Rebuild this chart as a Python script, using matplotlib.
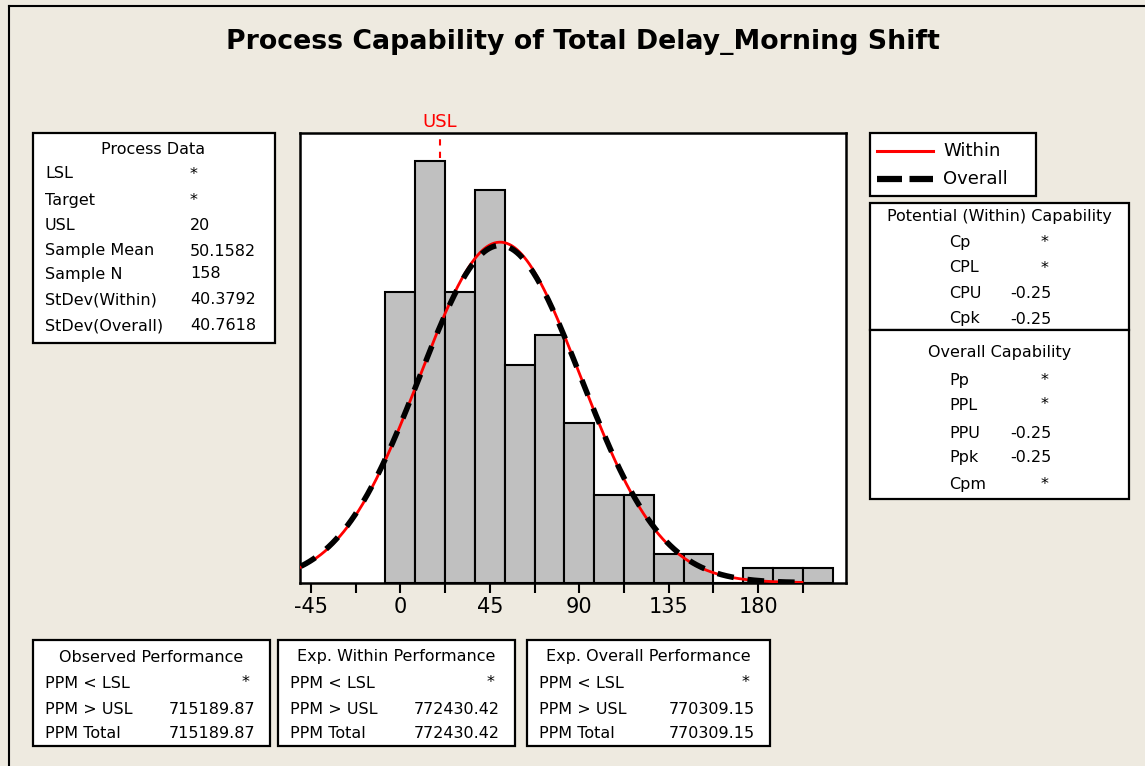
import numpy as np
import matplotlib.pyplot as plt
from matplotlib.patches import Rectangle
from matplotlib.lines import Line2D

plt.rcParams["axes.unicode_minus"] = False

# histogram data (bin centres, counts)
bin_centers = [0, 15, 30, 45, 60, 75, 90, 105, 120, 135, 150, 165, 180, 195, 210]
counts = [20, 29, 20, 27, 15, 17, 11, 6, 6, 2, 2, 0, 1, 1, 1]
bin_width = 15

usl = 20
mean = 50.1582
n = 158
sd_within = 40.3792
sd_overall = 40.7618

xticks = [-45, 0, 45, 90, 135, 180]

process_labels = ["LSL", "Target", "USL", "Sample Mean", "Sample N", "StDev(Within)", "StDev(Overall)"]
process_values = ["*", "*", "20", "50.1582", "158", "40.3792", "40.7618"]

within_labels = ["Cp", "CPL", "CPU", "Cpk"]
within_values = ["*", "*", "-0.25", "-0.25"]
overall_labels = ["Pp", "PPL", "PPU", "Ppk", "Cpm"]
overall_values = ["*", "*", "-0.25", "-0.25", "*"]

perf_titles = ["Observed Performance", "Exp. Within Performance", "Exp. Overall Performance"]
perf_labels = ["PPM < LSL", "PPM > USL", "PPM Total"]
perf_values = [["*", "715189.87", "715189.87"],
               ["*", "772430.42", "772430.42"],
               ["*", "770309.15", "770309.15"]]

W, H = 1145, 766
bg = "#EEEAE0"
fig = plt.figure(figsize=(W / 100, H / 100), dpi=100, facecolor=bg)


def fx(x):
    return x / W


def fy(y):
    return 1 - y / H


def box(x0, y0, x1, y1):
    fig.patches.append(Rectangle((fx(x0), fy(y1)), fx(x1) - fx(x0), fy(y0) - fy(y1),
                                 transform=fig.transFigure, facecolor="white",
                                 edgecolor="black", linewidth=1.6, zorder=1))


def txt(x, y, s, ha="left", color="black", size=11.5):
    fig.text(fx(x), fy(y), s, ha=ha, va="center", color=color, fontsize=size, zorder=3)


# outer frame
fig.add_artist(Line2D([fx(9), fx(9)], [0, fy(6)], color="black", linewidth=1.5))
fig.add_artist(Line2D([fx(9), 1], [fy(6), fy(6)], color="black", linewidth=1.5))

fig.text(fx(583), fy(42), "Process Capability of Total Delay_Morning Shift",
         ha="center", va="center", fontsize=19.3, fontweight="bold")

# histogram
ax = fig.add_axes([fx(300), fy(582.7), fx(845.7) - fx(300), fy(133.3) - fy(582.7)])
ax.bar(bin_centers, counts, width=bin_width, color="#C0C0C0", edgecolor="black",
       linewidth=1.5, zorder=2)
ax.axvline(usl, color="red", linestyle=(0, (3, 3)), linewidth=1.5, zorder=1)

xs = np.linspace(-50, 202, 400)
scale = n * bin_width
y_within = scale / (sd_within * np.sqrt(2 * np.pi)) * np.exp(-0.5 * ((xs - mean) / sd_within) ** 2)
y_overall = scale / (sd_overall * np.sqrt(2 * np.pi)) * np.exp(-0.5 * ((xs - mean) / sd_overall) ** 2)
ax.plot(xs, y_within, color="red", linewidth=2, zorder=3)
ax.plot(xs, y_overall, color="black", linewidth=4, linestyle=(0, (3, 2.5)), zorder=4)

ax.set_xlim(-50.5, 224)
ax.set_ylim(0, 30.9)
ax.set_yticks([])
ax.set_xticks(xticks)
ax.set_xticks([-22.5, 22.5, 67.5, 112.5, 157.5, 202.5], minor=True)
ax.tick_params(axis="x", which="both", direction="out", length=7, width=1.5, labelsize=15)
for sp in ax.spines.values():
    sp.set_linewidth(1.8)

ax.text(usl, 1.005, "USL", transform=ax.get_xaxis_transform(), ha="center",
        va="bottom", color="red", fontsize=13)

# Process Data box
box(33, 133, 275, 343)
txt(153, 149, "Process Data", ha="center")
row_y = [174, 200, 225, 251, 274, 300, 326]
for lab, val, y in zip(process_labels, process_values, row_y):
    txt(45, y, lab)
    txt(190, y, val)

# legend box
box(870, 133, 1036, 196)
fig.add_artist(Line2D([fx(877), fx(933)], [fy(151), fy(151)], color="red", linewidth=2.2))
fig.add_artist(Line2D([fx(877), fx(933)], [fy(179), fy(179)], color="black", linewidth=4.5,
                      linestyle=(0, (4, 1.2))))
txt(943, 151, "Within", size=13)
txt(943, 179, "Overall", size=13)

# capability boxes
box(870, 203, 1129, 330)
box(870, 330, 1129, 499)
txt(999, 217, "Potential (Within) Capability", ha="center")
for lab, val, y in zip(within_labels, within_values, [242, 268, 293, 319]):
    txt(949, y, lab)
    if val == "*":
        txt(1045, y, val, ha="center")
    else:
        txt(1010, y, val)
txt(1000, 352, "Overall Capability", ha="center")
for lab, val, y in zip(overall_labels, overall_values, [380, 405, 433, 457, 484]):
    txt(949, y, lab)
    if val == "*":
        txt(1045, y, val, ha="center")
    else:
        txt(1010, y, val)

# performance boxes
perf_boxes = [(33, 270), (278, 515), (527, 770)]
for (x0, x1), title, vals in zip(perf_boxes, perf_titles, perf_values):
    box(x0, 640, x1, 746)
    txt((x0 + x1) / 2, 657, title, ha="center")
    for lab, val, y in zip(perf_labels, vals, [683, 709, 733]):
        txt(x0 + 12, y, lab)
        if val == "*":
            txt(x1 - 24, y, val, ha="center")
        else:
            txt(x1 - 15, y, val, ha="right")

fig.savefig("out.png", dpi=100, facecolor=bg)
